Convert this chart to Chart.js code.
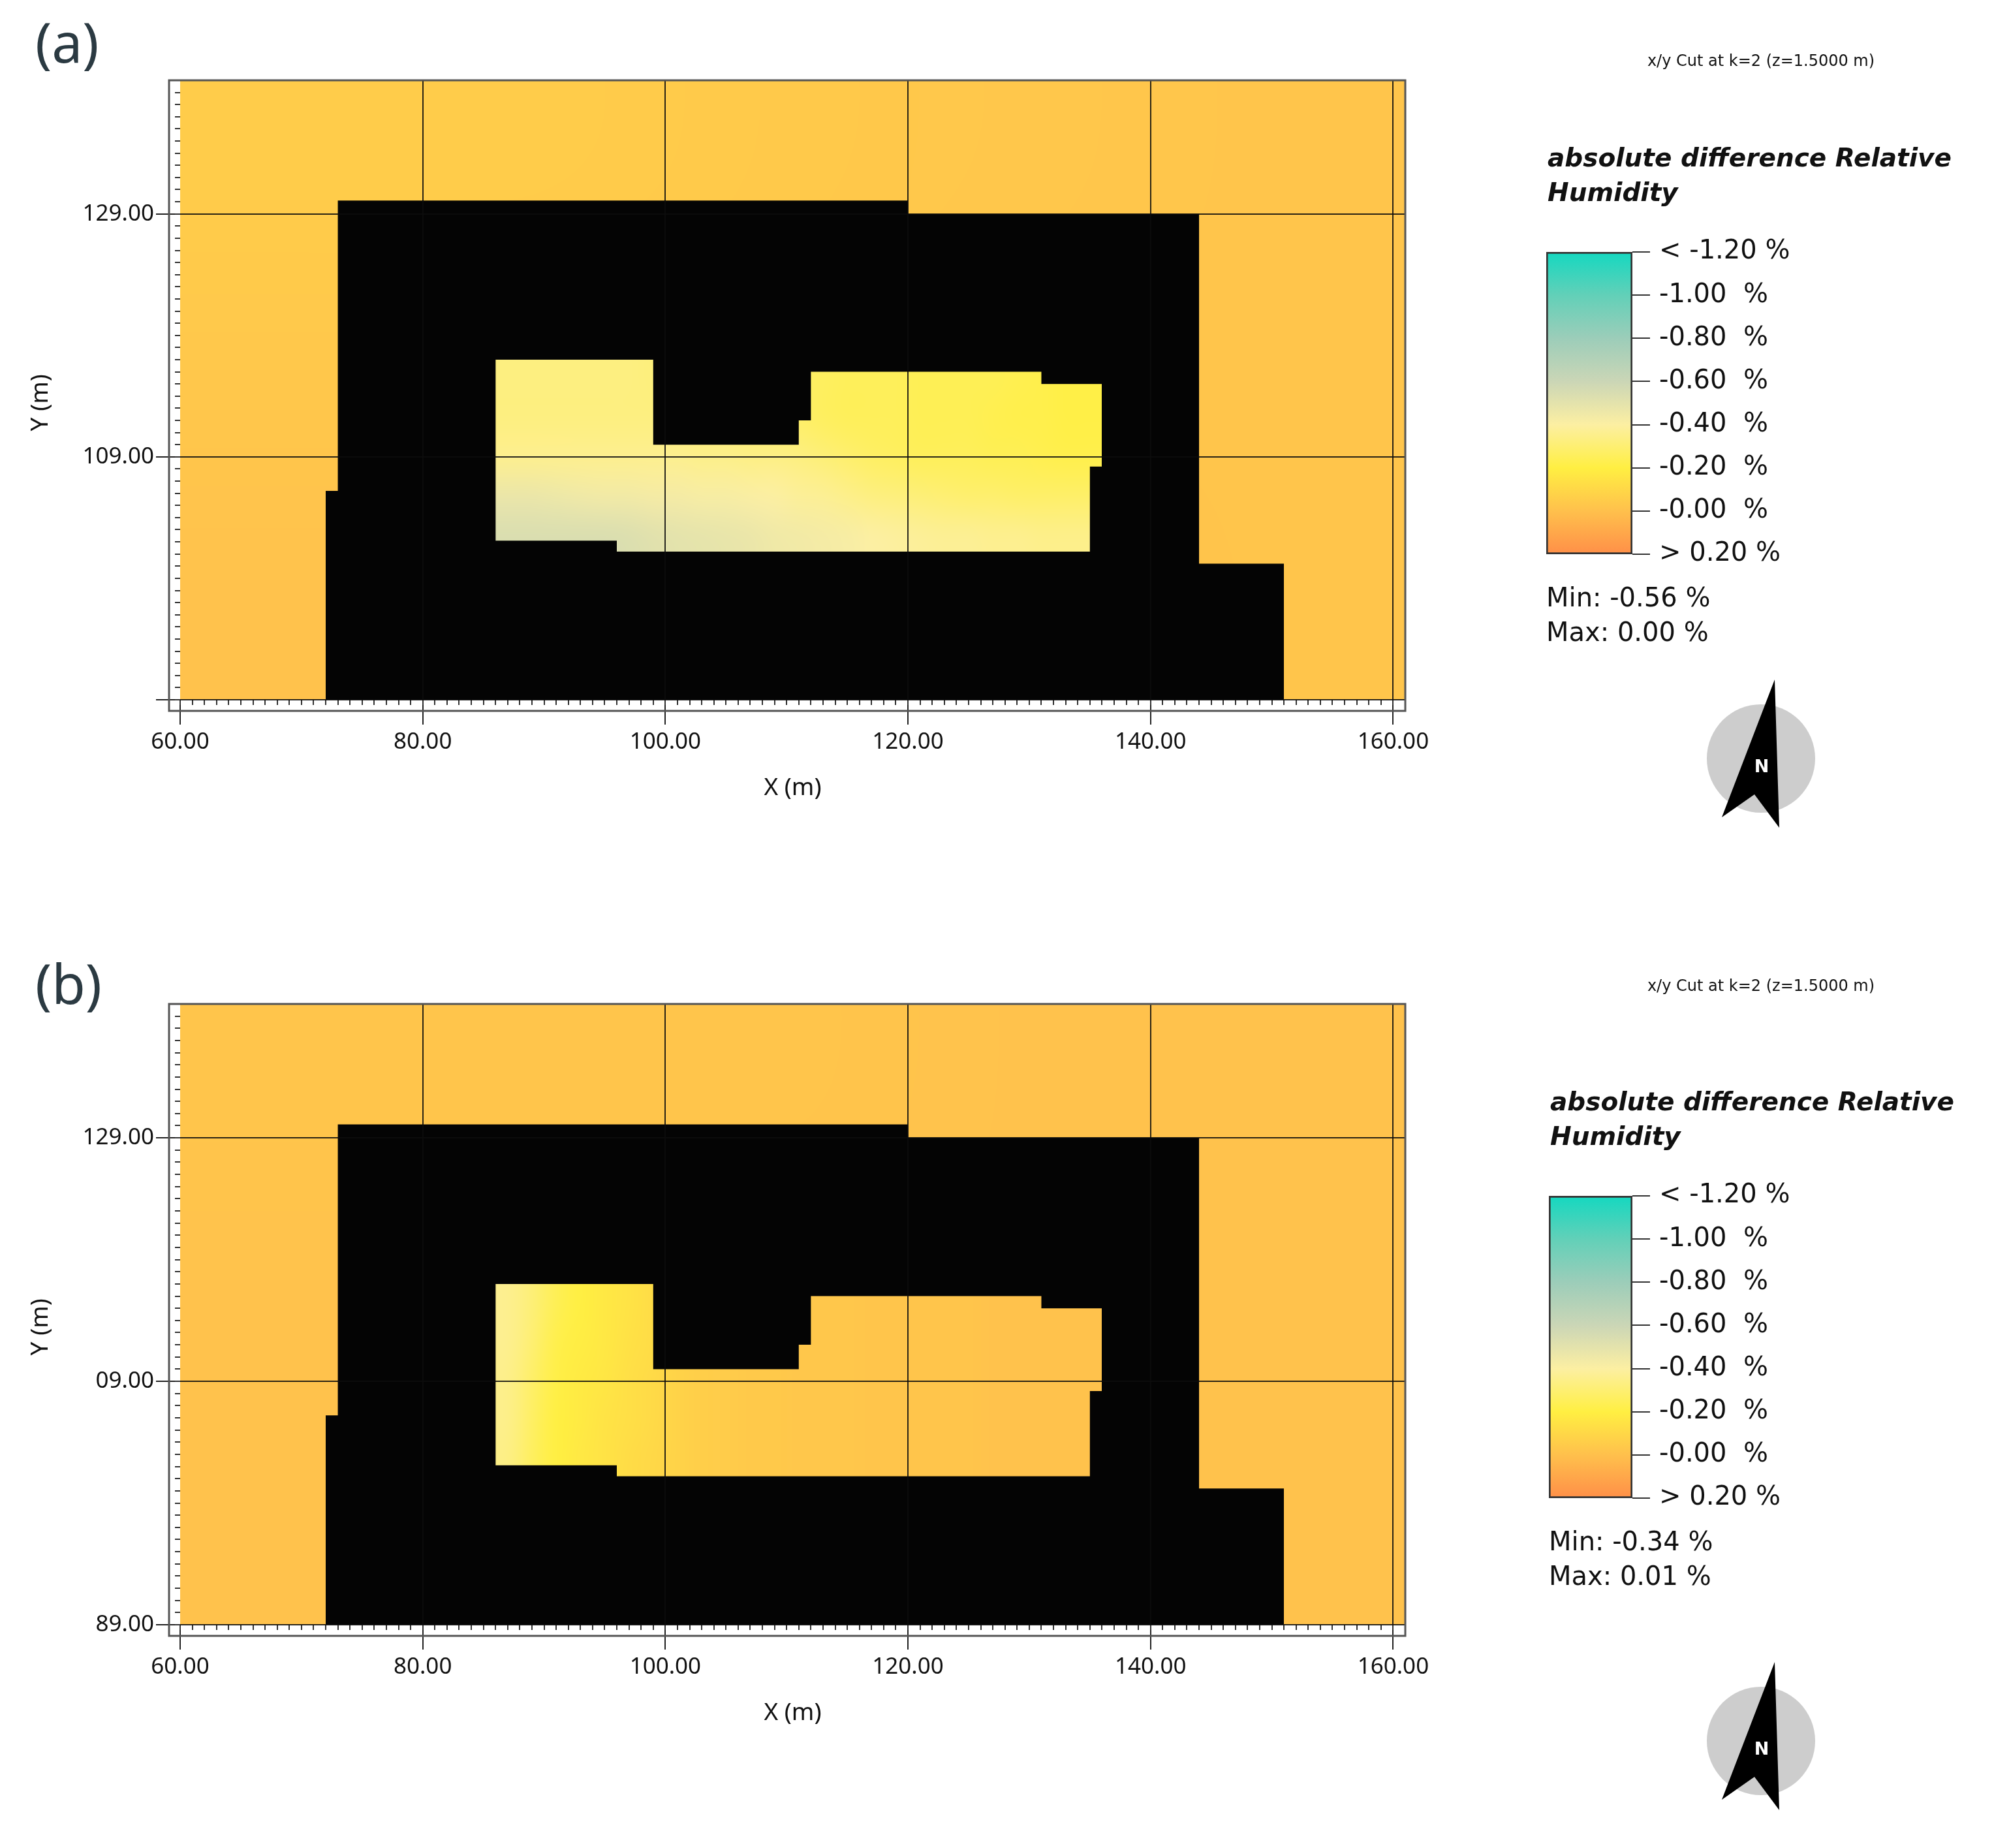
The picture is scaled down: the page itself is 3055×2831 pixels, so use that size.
<!DOCTYPE html>
<html>
<head>
<meta charset="utf-8">
<script src="https://cdn.jsdelivr.net/npm/chart.js@4"></script>
<style>
  html, body { margin: 0; background: #fff; }
  body { position: relative; width: 3055px; height: 2831px; overflow: hidden; }
  canvas { position: absolute; }
  .t { position: absolute; white-space: pre; line-height: 1; color: #111; transform: translateY(-50%); font-family: "DejaVu Sans", sans-serif; }
  .panel { font-family: "Noto Sans", sans-serif; font-size: 84px; color: #2b3a42; }
  .cut { font-size: 24px; transform: translate(-50%, -50%); }
  .ttl { font-size: 39px; font-weight: bold; font-style: italic; }
  .mm { font-size: 40px; }
  svg { position: absolute; left: 0; top: 0; }
</style>
</head>
<body>
<canvas id="chartA" width="3055" height="1415" style="left:0;top:0"></canvas>
<canvas id="chartB" width="3055" height="1416" style="left:0;top:1415px"></canvas>
<canvas id="barA" width="686" height="539" style="left:2369px;top:348px"></canvas>
<canvas id="barB" width="682" height="539" style="left:2373px;top:1794px"></canvas>

<div class="t panel" style="left:54px;top:64px">(a)</div>
<div class="t panel" style="left:54px;top:1506px">(b)</div>
<div class="t cut" style="left:2698px;top:93px">x/y Cut at k=2 (z=1.5000 m)</div>
<div class="t cut" style="left:2698px;top:1510px">x/y Cut at k=2 (z=1.5000 m)</div>
<div class="t ttl" style="left:2371px;top:241px">absolute difference Relative</div>
<div class="t ttl" style="left:2371px;top:294px">Humidity</div>
<div class="t ttl" style="left:2375px;top:1687px">absolute difference Relative</div>
<div class="t ttl" style="left:2375px;top:1740px">Humidity</div>
<div class="t mm" style="left:2369px;top:915px">Min: -0.56 %</div>
<div class="t mm" style="left:2369px;top:968px">Max: 0.00 %</div>
<div class="t mm" style="left:2373px;top:2361px">Min: -0.34 %</div>
<div class="t mm" style="left:2373px;top:2414px">Max: 0.01 %</div>

<svg width="3055" height="2831">
  <g id="north">
    <circle cx="2698" cy="1162" r="83" fill="#cdcdcd"/>
    <polygon points="2719,1041 2638,1252 2688,1217 2726,1268" fill="#000"/>
    <text x="2699" y="1183" font-family="DejaVu Sans" font-weight="bold" font-size="27" fill="#fff" text-anchor="middle">N</text>
  </g>
  <g transform="translate(0,1505)">
    <circle cx="2698" cy="1162" r="83" fill="#cdcdcd"/>
    <polygon points="2719,1041 2638,1252 2688,1217 2726,1268" fill="#000"/>
    <text x="2699" y="1183" font-family="DejaVu Sans" font-weight="bold" font-size="27" fill="#fff" text-anchor="middle">N</text>
  </g>
</svg>

<script>
// axis ticks
var xTicks = [60, 80, 100, 120, 140, 160];
var xLabels = ['60.00', '80.00', '100.00', '120.00', '140.00', '160.00'];
var yTicks = [89, 109, 129];
var yLabelsA = ['', '109.00', '129.00'];
var yLabelsB = ['89.00', '09.00', '129.00'];

// colour legend
var legendValues = [-1.2, -1.0, -0.8, -0.6, -0.4, -0.2, 0.0, 0.2];
var legendColors = ['#14d8c0', '#62d0b8', '#9ccdb9', '#cbd6b6', '#fcefa2', '#ffef42', '#ffc04c', '#ff8f48'];
var legendLabels = ['< -1.20 %', '-1.00  %', '-0.80  %', '-0.60  %', '-0.40  %', '-0.20  %', '-0.00  %', '> 0.20 %'];

// building silhouette, metres
var buildingX = [72, 72, 73, 73, 120, 120, 144, 144, 151, 151];
var buildingY = [89, 106.2, 106.2, 130.1, 130.1, 129, 129, 100.2, 100.2, 89];

// courtyard outline, metres
var courtTopX = [86, 86, 99, 99, 111, 111, 112, 112, 131, 131, 136, 136];
var courtTopY = [102.1, 117, 117, 110, 110, 112, 112, 116, 116, 115, 115, 108.2];
var courtLowX = [86, 96, 96, 135, 135, 136];
var courtLowY = [102.1, 102.1, 101.2, 101.2, 108.2, 108.2];

// humidity difference, top row first
var yardA = [
  [-0.05, -0.05, -0.04, -0.03, -0.02],
  [-0.03, -0.03, -0.03, -0.02, -0.02],
  [-0.01, -0.01, -0.01, -0.01, -0.02]
];
var yardB = [
  [-0.02, -0.02, -0.02, -0.01, -0.01],
  [-0.01, -0.01, -0.01, -0.01, -0.01],
  [-0.01, -0.01, -0.01, -0.01, -0.01]
];
var courtA = [
  [-0.33, -0.33, -0.33, -0.33, -0.33, -0.33, -0.32, -0.32, -0.31, -0.30, -0.29, -0.28, -0.27, -0.26, -0.25, -0.25, -0.25, -0.24, -0.24, -0.24, -0.24, -0.23, -0.22, -0.21, -0.21],
  [-0.33, -0.33, -0.33, -0.33, -0.33, -0.33, -0.33, -0.32, -0.31, -0.31, -0.30, -0.29, -0.28, -0.26, -0.25, -0.25, -0.25, -0.24, -0.24, -0.24, -0.23, -0.22, -0.22, -0.21, -0.21],
  [-0.36, -0.36, -0.36, -0.36, -0.36, -0.36, -0.36, -0.36, -0.35, -0.35, -0.34, -0.34, -0.33, -0.31, -0.29, -0.27, -0.26, -0.25, -0.25, -0.25, -0.24, -0.24, -0.23, -0.22, -0.22],
  [-0.47, -0.47, -0.46, -0.45, -0.44, -0.44, -0.43, -0.43, -0.42, -0.42, -0.41, -0.40, -0.38, -0.37, -0.35, -0.33, -0.32, -0.31, -0.30, -0.29, -0.29, -0.28, -0.28, -0.28, -0.28],
  [-0.54, -0.54, -0.54, -0.54, -0.54, -0.53, -0.51, -0.50, -0.49, -0.48, -0.47, -0.45, -0.44, -0.43, -0.42, -0.40, -0.39, -0.38, -0.37, -0.37, -0.36, -0.36, -0.35, -0.35, -0.35]
];
var courtB = [
  [-0.36, -0.31, -0.24, -0.20, -0.17, -0.15, -0.12, -0.08, -0.06, -0.05, -0.04, -0.04, -0.03, -0.03, -0.03, -0.02, -0.02, -0.02, -0.02, -0.02, -0.01, -0.01, -0.01, -0.01, -0.01],
  [-0.36, -0.30, -0.22, -0.19, -0.17, -0.14, -0.12, -0.08, -0.06, -0.05, -0.04, -0.04, -0.03, -0.03, -0.03, -0.02, -0.02, -0.02, -0.02, -0.02, -0.01, -0.01, -0.01, -0.01, -0.01],
  [-0.35, -0.28, -0.21, -0.18, -0.16, -0.13, -0.11, -0.08, -0.06, -0.05, -0.04, -0.04, -0.03, -0.03, -0.03, -0.02, -0.02, -0.02, -0.02, -0.02, -0.01, -0.01, -0.01, -0.01, -0.01],
  [-0.35, -0.27, -0.20, -0.18, -0.15, -0.13, -0.11, -0.08, -0.06, -0.05, -0.04, -0.04, -0.03, -0.03, -0.03, -0.02, -0.02, -0.02, -0.02, -0.02, -0.01, -0.01, -0.01, -0.01, -0.01],
  [-0.34, -0.26, -0.20, -0.17, -0.15, -0.12, -0.10, -0.08, -0.06, -0.05, -0.04, -0.04, -0.03, -0.03, -0.03, -0.02, -0.02, -0.02, -0.02, -0.02, -0.01, -0.01, -0.01, -0.01, -0.01]
];

function hex(c) {
  return [parseInt(c.slice(1, 3), 16), parseInt(c.slice(3, 5), 16), parseInt(c.slice(5, 7), 16)];
}

function colorFor(v) {
  var i = 0;
  while (i < legendValues.length - 2 && v > legendValues[i + 1]) i++;
  var t = (v - legendValues[i]) / (legendValues[i + 1] - legendValues[i]);
  t = Math.max(0, Math.min(1, t));
  var a = hex(legendColors[i]), b = hex(legendColors[i + 1]);
  return 'rgb(' + a.map(function (p, k) { return Math.round(p + (b[k] - p) * t); }).join(',') + ')';
}

// one small image of the read values, stretched over the scale box
function fieldPattern(chart, rows, x0, x1, y0, y1) {
  var small = document.createElement('canvas');
  small.width = rows[0].length;
  small.height = rows.length;
  var sc = small.getContext('2d');
  rows.forEach(function (row, j) {
    row.forEach(function (v, i) {
      sc.fillStyle = colorFor(v);
      sc.fillRect(i, j, 1, 1);
    });
  });
  var big = document.createElement('canvas');
  big.width = chart.width;
  big.height = chart.height;
  var bc = big.getContext('2d');
  var xs = chart.scales.x, ys = chart.scales.y;
  bc.imageSmoothingEnabled = true;
  bc.imageSmoothingQuality = 'high';
  bc.drawImage(small, xs.getPixelForValue(x0), ys.getPixelForValue(y1),
    xs.getPixelForValue(x1) - xs.getPixelForValue(x0), ys.getPixelForValue(y0) - ys.getPixelForValue(y1));
  return chart.ctx.createPattern(big, 'no-repeat');
}

function pairs(xs, ys) {
  return xs.map(function (x, i) { return { x: x, y: ys[i] }; });
}

var framePlugin = {
  id: 'frame',
  afterDraw: function (chart) {
    var a = chart.chartArea, c = chart.ctx;
    c.save();
    c.strokeStyle = '#555';
    c.lineWidth = 3;
    c.strokeRect(a.left - 17, a.top, a.right - a.left + 17, a.bottom - a.top + 17);
    c.restore();
  }
};

function fixedHeight(h) { return function (axis) { axis.height = h; }; }
function fixedWidth(w) { return function (axis) { axis.width = w; }; }

function makePanel(id, height, plotTop, plotBottom, yLabels, yard, court) {
  var tickFont = { family: 'Noto Sans', size: 35 };
  var titleFont = { family: 'Noto Sans', size: 37 };
  var cache = {};
  function fill(key, rows, x0, x1, y0, y1) {
    return function (ctx) {
      if (!ctx.chart.chartArea) return 'transparent';
      if (!cache[key]) cache[key] = fieldPattern(ctx.chart, rows, x0, x1, y0, y1);
      return cache[key];
    };
  }
  function line(points, extra) {
    return Object.assign({ data: points, pointRadius: 0, borderWidth: 0, tension: 0, showLine: true }, extra);
  }
  return new Chart(document.getElementById(id), {
    type: 'line',
    data: {
      datasets: [
        line(pairs(courtTopX, courtTopY), { fill: '+1', backgroundColor: fill('court', court, 86, 136, 101, 117) }),
        line(pairs(courtLowX, courtLowY), { fill: false }),
        line(pairs(buildingX, buildingY), { fill: { value: 89 }, backgroundColor: '#040404' }),
        line(pairs([60, 161], [140, 140]), { fill: { value: 89 }, backgroundColor: fill('yard', yard, 60, 161, 89, 140) })
      ]
    },
    options: {
      responsive: false,
      animation: false,
      events: [],
      layout: { padding: { top: plotTop, right: 902, left: 0, bottom: 0 } },
      plugins: { legend: { display: false }, tooltip: { enabled: false } },
      scales: {
        x: {
          type: 'linear', min: 60, max: 161, position: 'bottom',
          border: { display: false },
          afterBuildTicks: function (axis) { axis.ticks = xTicks.map(function (v) { return { value: v }; }); },
          afterFit: fixedHeight(height - plotBottom),
          grid: {
            z: 1, tickLength: 38, lineWidth: 2, tickColor: '#222',
            color: function (c) { return c.tick && c.tick.value === 60 ? 'transparent' : 'rgba(12,12,12,0.88)'; }
          },
          ticks: {
            font: tickFont, color: '#111', padding: 6, maxRotation: 0, autoSkip: false,
            callback: function (v) { return xLabels[xTicks.indexOf(v)]; }
          },
          title: { display: true, text: 'X (m)', font: titleFont, color: '#111', padding: { bottom: height - plotBottom - 134 - 24 } }
        },
        xMinor: {
          type: 'linear', min: 60, max: 161, position: 'bottom', weight: -1,
          border: { display: false },
          afterFit: fixedHeight(0),
          grid: { z: 1, drawOnChartArea: false, tickLength: 8, lineWidth: 2, tickColor: '#333' },
          ticks: { stepSize: 1, autoSkip: false, display: false }
        },
        y: {
          type: 'linear', min: 89, max: 140, position: 'left',
          border: { display: false },
          afterBuildTicks: function (axis) { axis.ticks = yTicks.map(function (v) { return { value: v }; }); },
          afterFit: fixedWidth(276),
          grid: { z: 1, tickLength: 37, lineWidth: 2, color: 'rgba(12,12,12,0.88)', tickColor: '#222' },
          ticks: {
            font: tickFont, color: '#111', padding: 3, autoSkip: false,
            callback: function (v) { return yLabels[yTicks.indexOf(v)]; }
          },
          title: { display: true, text: 'Y (m)\u00a0\u00a0\u00a0\u00a0', font: titleFont, color: '#111', padding: { top: 40 } }
        },
        yMinor: {
          type: 'linear', min: 89, max: 140, position: 'left', weight: -1,
          border: { display: false },
          afterFit: fixedWidth(0),
          grid: { z: 1, drawOnChartArea: false, tickLength: 8, lineWidth: 2, tickColor: '#333' },
          ticks: { stepSize: 1, autoSkip: false, display: false }
        }
      }
    },
    plugins: [framePlugin]
  });
}

function makeColorbar(id, barWidth) {
  return new Chart(document.getElementById(id), {
    type: 'bar',
    data: {
      labels: ['scale'],
      datasets: [{
        data: [[legendValues[0], legendValues[legendValues.length - 1]]],
        barPercentage: 1,
        categoryPercentage: 1,
        borderWidth: 3,
        borderSkipped: false,
        borderColor: '#333',
        backgroundColor: function (ctx) {
          var chart = ctx.chart;
          if (!chart.chartArea) return 'transparent';
          var s = chart.scales.y;
          var g = chart.ctx.createLinearGradient(0, s.getPixelForValue(legendValues[0]), 0, s.getPixelForValue(legendValues[legendValues.length - 1]));
          legendValues.forEach(function (v, i) { g.addColorStop(i / (legendValues.length - 1), legendColors[i]); });
          return g;
        }
      }]
    },
    options: {
      responsive: false,
      animation: false,
      events: [],
      layout: { padding: { top: 30, bottom: 30, left: 0, right: 0 } },
      plugins: { legend: { display: false }, tooltip: { enabled: false } },
      scales: {
        x: { display: false },
        y: {
          type: 'linear', reverse: true, min: -1.2, max: 0.2, position: 'right',
          border: { display: false },
          afterBuildTicks: function (axis) { axis.ticks = legendValues.map(function (v) { return { value: v }; }); },
          afterFit: fixedWidth(686 - barWidth),
          grid: { drawOnChartArea: false, tickLength: 27, lineWidth: 2, tickColor: '#333' },
          ticks: {
            font: { family: 'DejaVu Sans', size: 40 }, color: '#111', padding: 14, autoSkip: false,
            callback: function (v, i) { return legendLabels[i]; }
          }
        }
      }
    }
  });
}

makePanel('chartA', 1415, 123, 1072, yLabelsA, yardA, courtA);
makePanel('chartB', 1416, 123, 1074, yLabelsB, yardB, courtB);
makeColorbar('barA', 132);
makeColorbar('barB', 132);
</script>
</body>
</html>
